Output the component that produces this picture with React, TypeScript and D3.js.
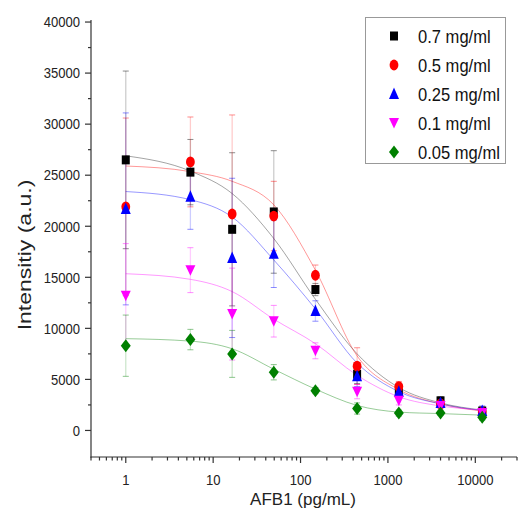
import React, { useEffect, useRef } from 'react';
import * as d3 from 'd3';

// AFB1 concentrations (pg/mL)
const conc = [1, 5.49, 16.5, 49.4, 148, 444, 1333, 4000, 12000];

const seriesNames = ['0.7 mg/ml', '0.5 mg/ml', '0.25 mg/ml', '0.1 mg/ml', '0.05 mg/ml'];
const seriesColors = ['#000000', '#ff0000', '#0000ff', '#ff00ff', '#008000'];
const seriesShapes = ['square', 'circle', 'triangleUp', 'triangleDown', 'diamond'];

// measured intensities
const mean07 = [26500, 25300, 19700, 21400, 13800, 5500, 3900, 2900, 1900];
const mean05 = [21900, 26300, 21200, 21000, 15200, 6300, 4300, 2600, 1800];
const mean025 = [21700, 22900, 16900, 17300, 11700, 5300, 3800, 2700, 1900];
const mean01 = [13200, 15700, 11400, 10700, 7800, 3800, 2900, 2400, 1700];
const mean005 = [8300, 8900, 7500, 5700, 3900, 2150, 1700, 1700, 1300];

// error bars (+/-)
const err07 = [8700, 3200, 7500, 6000, 600, 900, 500, 400, 400];
const err05 = [8700, 4400, 9700, 3400, 1000, 1800, 500, 400, 400];
const err025 = [9400, 3200, 7800, 3300, 1000, 1000, 700, 300, 500];
const err01 = [5100, 2200, 4500, 1550, 780, 700, 400, 300, 300];
const err005 = [3000, 1000, 2300, 750, 300, 550, 300, 200, 300];

// fitted curves at the same concentrations
const fit07 = [26900, 25400, 23200, 18800, 12850, 7500, 4200, 2700, 2000];
const fit05 = [25900, 25350, 24400, 22100, 15700, 7300, 4000, 2600, 1900];
const fit025 = [23400, 22600, 20900, 16700, 11900, 6600, 3800, 2600, 1950];
const fit01 = [15350, 14800, 13600, 10900, 8500, 5400, 3300, 2400, 2000];
const fit005 = [8990, 8750, 8000, 6000, 4050, 2450, 1800, 1650, 1500];

const yTicks = [0, 5000, 10000, 15000, 20000, 25000, 30000, 35000, 40000];
const xTicks = [1, 10, 100, 1000, 10000];

const means = [mean07, mean05, mean025, mean01, mean005];
const errs = [err07, err05, err025, err01, err005];
const fits = [fit07, fit05, fit025, fit01, fit005];

const markerPath = (shape: string) => {
  switch (shape) {
    case 'square': return 'M-4,-4.5H4V4.5H-4Z';
    case 'circle': return 'M-4.4,0A4.4,5.4 0 1,0 4.4,0A4.4,5.4 0 1,0 -4.4,0Z';
    case 'triangleUp': return 'M0,-6.5L5,5L-5,5Z';
    case 'triangleDown': return 'M0,5.5L5,-5L-5,-5Z';
    default: return 'M0,-6.5L5,0L0,6.5L-5,0Z';
  }
};

const App = () => {
  const svgRef = useRef<SVGSVGElement>(null);

  useEffect(() => {
    const svg = d3.select(svgRef.current);
    svg.selectAll('*').remove();

    const x = d3.scaleLog().domain([0.4, 30000]).range([91, 517]);
    const y = d3.scaleLinear().domain([-2600, 40200]).range([457, 20]);
    const font = '"Liberation Sans", Arial, sans-serif';

    // axes
    const axis = svg.append('g').attr('stroke', '#333').attr('stroke-width', 1.2);
    axis.append('line').attr('x1', 91).attr('x2', 91).attr('y1', 20).attr('y2', 457.6);
    axis.append('line').attr('x1', 90.4).attr('x2', 517).attr('y1', 457).attr('y2', 457);

    const yMinor = d3.range(2500, 40000, 5000);
    axis.selectAll('.ymaj').data(yTicks).join('line')
      .attr('x1', 85).attr('x2', 91).attr('y1', d => y(d)).attr('y2', d => y(d));
    axis.selectAll('.ymin').data(yMinor).join('line').attr('class', 'ymin')
      .attr('x1', 88).attr('x2', 91).attr('y1', d => y(d)).attr('y2', d => y(d));

    const xMinor: number[] = [];
    [0.1, 1, 10, 100, 1000, 10000].forEach(dec => {
      d3.range(2, 10).forEach(m => {
        const v = dec * m;
        if (v >= 0.4 && v <= 30000) xMinor.push(v);
      });
    });
    axis.selectAll('.xmin').data(xMinor).join('line').attr('class', 'xmin')
      .attr('x1', d => x(d)).attr('x2', d => x(d)).attr('y1', 457).attr('y2', 460.5);
    axis.selectAll('.xmaj').data(xTicks).join('line').attr('class', 'xmaj')
      .attr('x1', d => x(d)).attr('x2', d => x(d)).attr('y1', 457).attr('y2', 463);

    // tick labels, slightly condensed like the original export
    svg.append('g').selectAll('text').data(yTicks).join('text')
      .attr('transform', d => `translate(80,${y(d) + 5.3}) scale(0.87,1)`).attr('text-anchor', 'end')
      .attr('font-family', font).attr('font-size', 15).attr('fill', '#222')
      .text(d => d);
    svg.append('g').selectAll('text').data(xTicks).join('text')
      .attr('transform', d => `translate(${x(d)},485) scale(0.87,1)`).attr('text-anchor', 'middle')
      .attr('font-family', font).attr('font-size', 15).attr('fill', '#222')
      .text(d => d);

    svg.append('text').attr('x', 303).attr('y', 505).attr('text-anchor', 'middle')
      .attr('font-family', font).attr('font-size', 17).attr('fill', '#222')
      .text('AFB1 (pg/mL)');
    svg.append('text').attr('transform', 'translate(31,255) rotate(-90) scale(1,0.8)').attr('text-anchor', 'middle')
      .attr('font-family', font).attr('font-size', 23).attr('fill', '#222')
      .text('Intensitiy (a.u.)');

    // fit curves
    const line = d3.line<number>().x((d, i) => x(conc[i])).y(d => y(d)).curve(d3.curveMonotoneX);
    fits.forEach((f, s) => {
      svg.append('path').attr('d', line(f)).attr('fill', 'none')
        .attr('stroke', seriesColors[s]).attr('stroke-opacity', s === 0 ? 0.4 : 0.45).attr('stroke-width', 0.9);
    });

    // error bars
    means.forEach((m, s) => {
      const g = svg.append('g').attr('stroke', seriesColors[s]);
      m.forEach((v, i) => {
        const cx = x(conc[i]);
        const e = errs[s][i];
        g.append('line').attr('x1', cx).attr('x2', cx).attr('y1', y(v - e)).attr('y2', y(v + e))
          .attr('stroke-opacity', 0.2).attr('stroke-width', 1.3);
        [v - e, v + e].forEach(c => {
          g.append('line').attr('x1', cx - 3).attr('x2', cx + 3).attr('y1', y(c)).attr('y2', y(c))
            .attr('stroke-opacity', 0.45).attr('stroke-width', 1);
        });
      });
    });

    // markers
    means.forEach((m, s) => {
      svg.append('g').selectAll('path').data(m).join('path')
        .attr('d', markerPath(seriesShapes[s]))
        .attr('transform', (d, i) => `translate(${x(conc[i])},${y(d)})`)
        .attr('fill', seriesColors[s]);
    });

    // legend
    const legend = svg.append('g');
    legend.append('rect').attr('x', 365.5).attr('y', 17.5).attr('width', 140).attr('height', 146)
      .attr('fill', '#fff').attr('stroke', '#999').attr('stroke-width', 1);
    seriesNames.forEach((name, s) => {
      const cy = 36 + s * 29;
      legend.append('path').attr('d', markerPath(seriesShapes[s]))
        .attr('transform', `translate(394,${cy})`).attr('fill', seriesColors[s]);
      legend.append('text').attr('transform', `translate(418,${cy + 6.5}) scale(0.92,1)`)
        .attr('font-family', font).attr('font-size', 18).attr('fill', '#111')
        .text(name);
    });
  }, []);

  return (
    <svg ref={svgRef} width={520} height={526}
      style={{ position: 'absolute', left: 0, top: 0, background: '#fff' }} />
  );
};

export default App;
